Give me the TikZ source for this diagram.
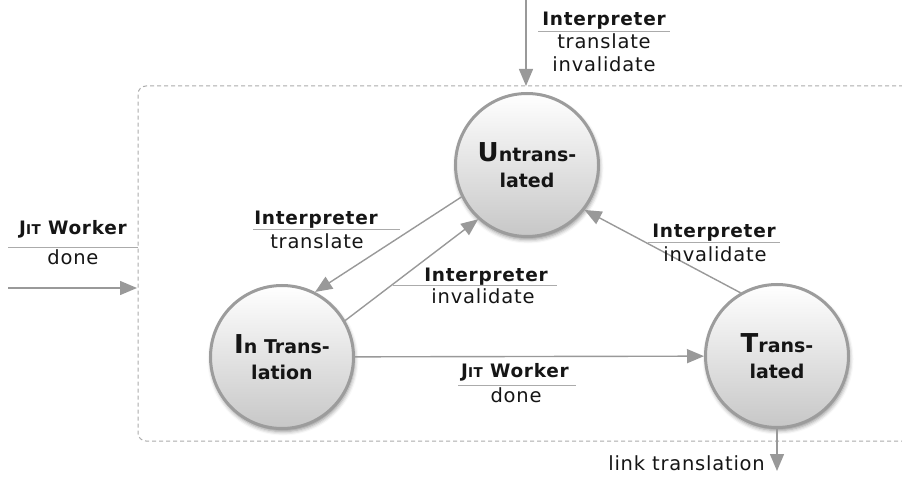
\documentclass[tikz,border=0pt]{standalone}
\usepackage{fontspec}
\setmainfont{DejaVu Sans}
\newfontfamily\labelfont[LetterSpace=4]{DejaVu Sans}
\usetikzlibrary{arrows.meta,shadows.blur}
\definecolor{flowgray}{HTML}{999999}
\definecolor{rulegray}{HTML}{ABABAB}
\definecolor{ringgray}{HTML}{9C9C9C}
\definecolor{inkblack}{HTML}{151515}
% enlarged initial letter of a state name
\newcommand{\bigini}[1]{{\fontsize{26}{26}\selectfont #1}}
% faked small capitals
\newcommand{\scini}[1]{{\fontsize{13.5}{13.5}\selectfont #1}}

\begin{document}
\begin{tikzpicture}[x=1pt,y=-1pt,
  state/.style={circle, minimum size=143pt, inner sep=0pt, draw=ringgray,
    line width=3pt, top color=white, bottom color=black!22,
    blur shadow={shadow xshift=1pt, shadow yshift=-3pt,
      shadow blur radius=4pt, shadow opacity=45},
    align=center, text=inkblack,
    font=\fontsize{19}{26}\selectfont\bfseries},
  flow/.style={draw=flowgray, line width=1.4pt,
    -{Triangle[length=17pt,width=14pt]}},
  rulebar/.style={draw=rulegray, line width=1pt},
  head/.style={anchor=base, inner sep=0pt, text=inkblack,
    font=\labelfont\fontsize{18.5}{20}\selectfont\bfseries},
  body/.style={anchor=base, inner sep=0pt, text=inkblack,
    font=\labelfont\fontsize{19.5}{21}\selectfont},
  frame/.style={draw=rulegray, line width=1pt,
    dash pattern=on 4pt off 3pt, rounded corners=8pt}]

\useasboundingbox (0,0) rectangle (902,478);

% system boundary (open to the right)
\draw[frame] (910,86) -- (138,86) -- (138,441) -- (910,441);

% states
\node[state] (U) at (527,165) {\bigini{U}ntrans-\\lated};
\node[state] (I) at (282,357) {\bigini{I}n Trans-\\lation};
\node[state] (T) at (777,356) {\bigini{T}rans-\\lated};

% external entry and exit points
\coordinate (topIn)  at (526,0);
\coordinate (topEnd) at (526,86);
\coordinate (leftIn) at (8,288);
\coordinate (leftEnd) at (137,288);
\coordinate (linkEnd) at (777,471);

% transitions
\draw[flow] (topIn) -- (topEnd);
\draw[flow] (leftIn) -- (leftEnd);
\draw[flow] (T.south) -- (linkEnd);
\draw[flow] (U.206) -- (I.63);
\draw[flow] (I.30) -- (U.228);
\draw[flow] (T.120) -- (U.322);
\draw[flow] (I) -- (T);

% label: incoming from the top
\node[head] (topH) at (604,26) {Interpreter};
\draw[rulebar] (538,32) -- (670,32);
\node[body] (topB1) at (604,49) {translate};
\node[body] (topB2) at (604,72) {invalidate};

% label: incoming from the left
\node[head] (leftH) at (73,235) {J\scini{IT} Worker};
\draw[rulebar] (8,248) -- (138,248);
\node[body] (leftB) at (73,265) {done};

% label: Untranslated -> In Translation
\node[head] (utH) at (316,225) {Interpreter};
\draw[rulebar] (253,230) -- (400,230);
\node[body] (utB) at (317,249) {translate};

% label: In Translation -> Untranslated
\node[head] (iuH) at (486,282) {Interpreter};
\draw[rulebar] (393,286) -- (557,286);
\node[body] (iuB) at (483,303) {invalidate};

% label: Translated -> Untranslated
\node[head] (tuH) at (714,238) {Interpreter};
\draw[rulebar] (648,243) -- (780,243);
\node[body] (tuB) at (715,262) {invalidate};

% label: In Translation -> Translated
\node[head] (itH) at (515,377) {J\scini{IT} Worker};
\draw[rulebar] (458,385) -- (576,385);
\node[body] (itB) at (516,402) {done};

% label: outgoing link
\node[body, anchor=base east] (linkB) at (765,470) {link translation};
\end{tikzpicture}
\end{document}
